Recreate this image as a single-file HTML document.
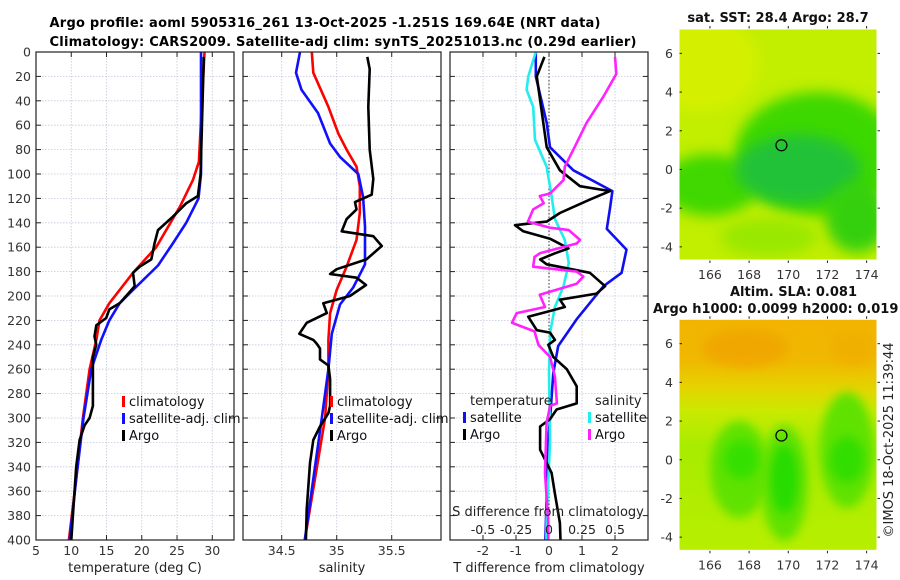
<!DOCTYPE html>
<html><head><meta charset="utf-8">
<style>
html,body{margin:0;padding:0;background:#fff;}
svg{display:block;font-family:"DejaVu Sans","Liberation Sans",sans-serif;}
</style></head>
<body>
<svg id="fig" width="900" height="580" viewBox="0 0 900 580" xmlns="http://www.w3.org/2000/svg">
<defs>
<filter id="blur1" x="-50%" y="-50%" width="200%" height="200%"><feGaussianBlur stdDeviation="7"/></filter>
<filter id="blur2" x="-50%" y="-50%" width="200%" height="200%"><feGaussianBlur stdDeviation="5"/></filter>
<clipPath id="clipMap1"><rect x="679" y="29" width="198" height="231"/></clipPath>
<clipPath id="clipMap2"><rect x="679" y="319" width="198" height="231"/></clipPath>
<clipPath id="clipP1"><rect x="36" y="52" width="198" height="488"/></clipPath>
<clipPath id="clipP2"><rect x="243" y="52" width="198" height="488"/></clipPath>
<clipPath id="clipP3"><rect x="450" y="52" width="198" height="488"/></clipPath>
<linearGradient id="slaGrad" x1="0" y1="0" x2="0" y2="1">
<stop offset="0" stop-color="#f2b400"/>
<stop offset="0.18" stop-color="#f0b800"/>
<stop offset="0.30" stop-color="#e4d400"/>
<stop offset="0.40" stop-color="#c8ea00"/>
<stop offset="0.55" stop-color="#a8ec00"/>
<stop offset="1" stop-color="#b8ee00"/>
</linearGradient>
</defs>
<text x="325" y="27" text-anchor="middle" font-size="13" font-weight="bold" textLength="551">Argo profile: aoml 5905316_261 13-Oct-2025 -1.251S 169.64E (NRT data)</text>
<text x="343" y="46" text-anchor="middle" font-size="13" font-weight="bold" textLength="587">Climatology: CARS2009. Satellite-adj clim: synTS_20251013.nc (0.29d earlier)</text>
<g id="panels"></g>
<g id="maps"></g>
<text transform="translate(893,440) rotate(-90)" text-anchor="middle" font-size="13" fill="#222">©IMOS 18-Oct-2025 11:39:44</text>
</svg>
<script>
// ---------- data ----------
const tClimDepth = [0,90,105,127,160,181,206,220,236,260,300,350,400];
const tClimVal   = [28.9,28.1,27.25,25.4,22.05,18.75,15.4,14.0,13.55,12.6,11.65,10.7,9.66];
const tSatDepth  = [0,100,120,140,157,175,195,206,220,236,260,300,350,400];
const tSatVal    = [28.4,28.4,28.05,26.3,24.4,22.3,18.75,16.85,15.4,14.25,12.84,11.74,10.7,9.76];
const tArgoDepth = [4,100,118,124,135,146,157,170,176,181,192,206,211,218,224,233,240,250,262,290,300,306,318,340,380,400];
const tArgoVal   = [28.8,28.35,27.96,26.3,24.4,22.3,21.8,21.35,19.7,18.75,19.0,16.85,15.4,14.95,13.55,13.3,13.55,13.07,13.07,13.07,12.6,11.89,11.18,10.7,10.23,10.0];

const sClimDepth = [0,17,45,67,80,94,110,132,154,176,195,214,236,260,300,400];
const sClimVal   = [34.773,34.787,34.924,35.015,35.09,35.18,35.21,35.21,35.18,35.09,35.0,34.94,34.924,34.924,34.894,34.71];
const sSatDepth  = [0,17,31,50,75,86,100,119,143,174,193,207,231,260,300,400];
const sSatVal    = [34.666,34.63,34.68,34.83,34.94,35.03,35.196,35.24,35.257,35.257,35.15,35.03,34.955,34.924,34.864,34.71];
const sArgoDepth = [4,14,45,80,104,117,123,129,137,147,151,159,170,178,182,185,191,200,206,214,222,231,236,239,243,252,257,268,290,296,307,318,337,375,400];
const sArgoVal   = [35.278,35.30,35.287,35.30,35.333,35.318,35.166,35.18,35.09,35.045,35.333,35.41,35.27,35.0,34.94,35.18,35.266,35.12,34.878,34.91,34.727,34.66,34.787,34.818,34.848,34.848,34.924,34.94,34.94,34.924,34.848,34.787,34.757,34.727,34.72];

const dTSatDepth = [0,20,58,78,97,114,128,145,162,181,192,219,241,263,290,318,383,400];
const dTSatVal   = [-0.4,-0.4,-0.07,0.03,0.74,1.92,1.85,1.75,2.35,2.2,1.65,0.84,0.28,0.13,0.06,-0.02,-0.09,-0.11];
const dTArgoDepth = [4,20,78,97,110,114,121,127,132,139,142,147,153,161,165,170,174,181,192,198,203,209,213,217,228,230,236,240,250,260,274,288,293,301,307,326,345,362,386,400];
const dTArgoVal   = [-0.14,-0.37,-0.07,0.33,0.94,1.85,1.24,0.74,0.33,-0.07,-1.03,-0.78,0.03,0.59,0.18,-0.27,-0.07,1.24,1.70,1.44,0.33,0.48,-0.07,-0.63,-0.37,0.03,0.18,-0.02,0.13,0.54,0.84,0.84,0.23,0.03,-0.27,-0.27,0.08,0.18,0.33,0.35];
const dSSatDepth = [0,20,31,45,72,94,118,137,154,173,192,209,230,263,318,383,400];
const dSSatVal   = [-0.10,-0.157,-0.17,-0.12,-0.106,-0.018,0.02,0.045,0.12,0.15,0.11,0.045,0.008,0,0.008,-0.018,-0.02];
const dSArgoDepth = [4,18,37,58,80,94,105,116,118,124,129,139,144,146,154,157,165,168,176,180,184,190,199,209,214,222,229,240,250,266,288,290,304,345,386,400];
const dSArgoVal   = [0.5,0.51,0.41,0.285,0.185,0.12,0.11,0.008,-0.07,-0.04,-0.12,-0.16,0.008,0.15,0.235,0.21,-0.07,-0.11,-0.12,0.21,0.26,0.21,-0.07,-0.03,-0.245,-0.28,-0.11,-0.08,0.008,0.045,0.06,0.008,-0.018,-0.03,-0.005,-0.005];

const depthTicks = [0,20,40,60,80,100,120,140,160,180,200,220,240,260,280,300,320,340,360,380,400];
const tempTicks = [5,10,15,20,25,30];
const salTicks = [34.5,35,35.5];
const salTickLabels = ["34.5","35","35.5"];
const dTTicks = [-2,-1,0,1,2];
const dSTicks = [-0.5,-0.25,0,0.25,0.5];
const dSTickLabels = ["-0.5","-0.25","0","0.25","0.5"];
const latTicks = [-4,-2,0,2,4,6];
const lonTicks = [166,168,170,172,174];
const argoLon = 169.65, argoLat = 1.25;

// ---------- helpers ----------
const NS = "http://www.w3.org/2000/svg";
function mk(tag, attrs, parent){
  const e = document.createElementNS(NS, tag);
  for (const k in attrs) e.setAttribute(k, attrs[k]);
  parent.appendChild(e);
  return e;
}
const TOP = 52, BOT = 540;
function yDepth(d){ return TOP + (BOT-TOP)*d/400; }

function panel(name, x0, x1, xmin, xmax, clip){
  const g = mk('g', {}, document.getElementById('panels'));
  
  
  const xs = v => x0 + (x1-x0)*(v-xmin)/(xmax-xmin);
  return {g, xs, x0, x1, clip};
}
function frame(p, xticks, xlabels, showYLabels){
  const g = p.g;
  // grid
  depthTicks.forEach(d=>{
    const y = yDepth(d);
    if (d>0 && d<400) {
      const l = mk('line', {x1:p.x0, x2:p.x1, y1:y, y2:y, stroke:'#c4c8dc', 'stroke-width':0.8, 'stroke-dasharray':'1.5,1.5'}, g);
      
      
    }
    const t1 = mk('line', {x1:p.x0, x2:p.x0+5, y1:y, y2:y, stroke:'#222', 'stroke-width':1}, g);
    
    
    const t2 = mk('line', {x1:p.x1-5, x2:p.x1, y1:y, y2:y, stroke:'#222', 'stroke-width':1}, g);
    
    
    if (showYLabels) {
      const t = mk('text', {x:p.x0-5, y:y+4.5, 'text-anchor':'end', 'font-size':12.5, fill:'#333'}, g);
      
      
      t.textContent = d;
    }
  });
  xticks.forEach((v,i)=>{
    const x = p.xs(v);
    if (x>p.x0+1 && x<p.x1-1) {
      const l = mk('line', {x1:x, x2:x, y1:TOP, y2:BOT, stroke:'#c4c8dc', 'stroke-width':0.8, 'stroke-dasharray':'1.5,1.5'}, g);
      
      
    }
    const t1 = mk('line', {x1:x, x2:x, y1:BOT-5, y2:BOT, stroke:'#222'}, g);
    
    
    const t2 = mk('line', {x1:x, x2:x, y1:TOP, y2:TOP+5, stroke:'#222'}, g);
    
    
    const t = mk('text', {x:x, y:555, 'text-anchor':'middle', 'font-size':12.5, fill:'#333'}, g);
    
    
    t.textContent = xlabels[i];
  });
}
function border(p){
  const r = mk('rect', {x:p.x0, y:TOP, width:p.x1-p.x0, height:BOT-TOP, fill:'none', stroke:'#222', 'stroke-width':1.2}, p.g);
  
  
}
function series(p, depths, vals, xs, color, name){
  const pts = depths.map((d,i)=> xs(vals[i]).toFixed(1)+','+yDepth(d).toFixed(1)).join(' ');
  const l = mk('polyline', {points:pts, fill:'none', stroke:color, 'stroke-width':2.6, 'stroke-linejoin':'round', 'clip-path':'url(#'+p.clip+')'}, p.g);
  
  
}
function legendEntry(g, x, y, color, label, name){
  const m = mk('rect', {x:x-7, y:y-10, width:3, height:11, fill:color}, g);
  
  
  const t = mk('text', {x:x, y:y, 'font-size':13, fill:'#111'}, g);
  
  
  t.textContent = label;
}
function label(g, x, y, txt, name, anchor){
  const t = mk('text', {x:x, y:y, 'text-anchor':anchor||'middle', 'font-size':13, fill:'#222'}, g);
  
  
  t.textContent = txt;
}

// ---------- panel 1: temperature ----------
const p1 = panel('temperature-panel', 36, 234, 5, 33.08, 'clipP1');
frame(p1, tempTicks, tempTicks.map(String), true);
series(p1, tClimDepth, tClimVal, p1.xs, '#ff0000', 'temp-climatology-line');
series(p1, tSatDepth, tSatVal, p1.xs, '#1010ff', 'temp-satellite-line');
series(p1, tArgoDepth, tArgoVal, p1.xs, '#000000', 'temp-argo-line');
border(p1);
legendEntry(p1.g, 129, 406, '#ff0000', 'climatology', 'legend-climatology');
legendEntry(p1.g, 129, 423, '#1010ff', 'satellite-adj. clim', 'legend-satellite-adj');
legendEntry(p1.g, 129, 440, '#000000', 'Argo', 'legend-argo');
label(p1.g, 135, 572, 'temperature (deg C)', 'x-axis-title-temperature');

// ---------- panel 2: salinity ----------
const p2 = panel('salinity-panel', 243, 441, 34.148, 35.948, 'clipP2');
frame(p2, salTicks, salTickLabels, false);
series(p2, sClimDepth, sClimVal, p2.xs, '#ff0000', 'sal-climatology-line');
series(p2, sSatDepth, sSatVal, p2.xs, '#1010ff', 'sal-satellite-line');
series(p2, sArgoDepth, sArgoVal, p2.xs, '#000000', 'sal-argo-line');
border(p2);
legendEntry(p2.g, 337, 406, '#ff0000', 'climatology', 'legend-climatology-2');
legendEntry(p2.g, 337, 423, '#1010ff', 'satellite-adj. clim', 'legend-satellite-adj-2');
legendEntry(p2.g, 337, 440, '#000000', 'Argo', 'legend-argo-2');
label(p2.g, 342, 572, 'salinity', 'x-axis-title-salinity');

// ---------- panel 3: differences ----------
const p3 = panel('difference-panel', 450, 648, -3, 3, 'clipP3');
frame(p3, dTTicks, dTTicks.map(String), false);
const xsS = v => p3.xs(v*4);
const zl = mk('line', {x1:p3.xs(0), x2:p3.xs(0), y1:TOP, y2:BOT, stroke:'#333', 'stroke-width':1, 'stroke-dasharray':'1.5,2'}, p3.g);


series(p3, dTSatDepth, dTSatVal, p3.xs, '#1010ee', 'dT-satellite-line');
series(p3, dSSatDepth, dSSatVal, xsS, '#22eeee', 'dS-satellite-line');
series(p3, dTArgoDepth, dTArgoVal, p3.xs, '#000000', 'dT-argo-line');
series(p3, dSArgoDepth, dSArgoVal, xsS, '#ff22ff', 'dS-argo-line');
border(p3);
label(p3.g, 470, 405, 'temperature', 'legend-temperature-header', 'start');
legendEntry(p3.g, 470, 422, '#1010ee', 'satellite', 'legend-dT-satellite');
legendEntry(p3.g, 470, 439, '#000000', 'Argo', 'legend-dT-argo');
label(p3.g, 595, 405, 'salinity', 'legend-salinity-header', 'start');
legendEntry(p3.g, 595, 422, '#22eeee', 'satellite', 'legend-dS-satellite');
legendEntry(p3.g, 595, 439, '#ff22ff', 'Argo', 'legend-dS-argo');
label(p3.g, 548, 516, 'S difference from climatology', 'x-axis-title-s-difference');
dSTicks.forEach((v,i)=>{
  const t = mk('text', {x:xsS(v), y:534, 'text-anchor':'middle', 'font-size':12.5, fill:'#222'}, p3.g);
  
  
  t.textContent = dSTickLabels[i];
});
label(p3.g, 549, 572, 'T difference from climatology', 'x-axis-title-t-difference');

// ---------- maps ----------
const LON0 = 164.42, LON1 = 174.53, LAT0 = 7.26, LAT1 = -4.68;
function mapAxes(name, y0, title1, title2, drawBg){
  const g = mk('g', {}, document.getElementById('maps'));
  
  
  const x0 = 679, x1 = 877, y1 = y0+231;
  const lx = v => x0 + (x1-x0)*(v-LON0)/(LON1-LON0);
  const ly = v => y0 + (y1-y0)*(LAT0-v)/(LAT0-LAT1);
  drawBg(g, lx, ly);
  const c = mk('circle', {cx:lx(argoLon), cy:ly(argoLat), r:5.5, fill:'none', stroke:'#000', 'stroke-width':1.2}, g);
  
  
  latTicks.forEach(v=>{
    const y = ly(v);
    const a = mk('line', {x1:x0, x2:x0+3, y1:y, y2:y, stroke:'#222'}, g);
    
    
    const b = mk('line', {x1:x1, x2:x1+3, y1:y, y2:y, stroke:'#222'}, g);
    
    
    const t = mk('text', {x:673, y:y+4.5, 'text-anchor':'end', 'font-size':12.5, fill:'#333'}, g);
    
    
    t.textContent = v;
  });
  lonTicks.forEach(v=>{
    const x = lx(v);
    const a = mk('line', {x1:x, x2:x, y1:y1, y2:y1+3, stroke:'#222'}, g);
    
    
    const b = mk('line', {x1:x, x2:x, y1:y0-3, y2:y0, stroke:'#222'}, g);
    
    
    const t = mk('text', {x:x, y:y1+19, 'text-anchor':'middle', 'font-size':12.5, fill:'#333'}, g);
    
    
    t.textContent = v;
  });
  const r = mk('rect', {x:x0, y:y0, width:x1-x0, height:y1-y0, fill:'none', stroke:'#fff', 'stroke-width':1}, g);
  
  
  return g;
}
function blob(g, lx, ly, lon, lat, rlon, rlat, color, filt, name){
  const e = mk('ellipse', {cx:lx(lon), cy:ly(lat), rx:rlon*19.58, ry:rlat*19.33, fill:color, filter:'url(#'+filt+')'}, g);
  
  
}
mapAxes('sst-map', 29, '', '', (g, lx, ly)=>{
  const c = mk('g', {'clip-path':'url(#clipMap1)'}, g);
  
  
  const bg = mk('rect', {x:679, y:29, width:198, height:231, fill:'#c2ee00'}, c);
  
  
  blob(c, lx, ly, 165.5, 5.5, 3, 2.5, '#d4f000', 'blur1', 'sst-warm-area');
  blob(c, lx, ly, 171.5, 0.8, 4.2, 3.2, '#3cd800', 'blur1', 'sst-green-area');
  blob(c, lx, ly, 166, -0.8, 2.5, 1.6, '#40d800', 'blur1', 'sst-green-west');
  blob(c, lx, ly, 170.5, 0, 3.2, 1.8, '#24c238', 'blur1', 'sst-cool-core');
  blob(c, lx, ly, 173.5, -2.5, 1.6, 1.8, '#34d010', 'blur1', 'sst-green-southeast');
  blob(c, lx, ly, 169, -3.5, 2.5, 1, '#9ae800', 'blur1', 'sst-light-south');
});
mapAxes('sla-map', 319.3, '', '', (g, lx, ly)=>{
  const c = mk('g', {'clip-path':'url(#clipMap2)'}, g);
  
  
  const bg = mk('rect', {x:679, y:319.3, width:198, height:231, fill:'url(#slaGrad)'}, c);
  
  
  blob(c, lx, ly, 167.8, 5.8, 2.2, 1.0, '#f0a800', 'blur2', 'sla-high-west');
  blob(c, lx, ly, 173.3, 5.8, 1.2, 0.9, '#f0b000', 'blur2', 'sla-high-east');
  blob(c, lx, ly, 167.5, -0.5, 1.5, 2.5, '#60e200', 'blur2', 'sla-green-west');
  blob(c, lx, ly, 169.8, -1.2, 1.2, 3.0, '#60e200', 'blur2', 'sla-green-center');
  blob(c, lx, ly, 173, 0.5, 1.4, 3.0, '#60e200', 'blur2', 'sla-green-east');
  blob(c, lx, ly, 167.6, 0, 0.9, 1.0, '#36e000', 'blur2', 'sla-low-west');
  blob(c, lx, ly, 169.8, -1, 0.7, 1.8, '#28dc00', 'blur2', 'sla-low-center');
  blob(c, lx, ly, 173, 0, 0.9, 1.2, '#30de00', 'blur2', 'sla-low-east');
});
const mt = document.getElementById('maps');
[['sat. SST: 28.4 Argo: 28.7',778,22,'sst-map-title'],['Altim. SLA: 0.081',730,296,'sla-map-title'],['Argo h1000: 0.0099 h2000: 0.019',653,313,'sla-map-subtitle']].forEach(a=>{
  const t = mk('text', {x:a[1], y:a[2], 'text-anchor': a[3]==='sst-map-title'?'middle':'start', 'font-size':13, 'font-weight':'bold', fill:'#111'}, mt);
  
  
  t.textContent = a[0];
});
</script>
</body></html>
